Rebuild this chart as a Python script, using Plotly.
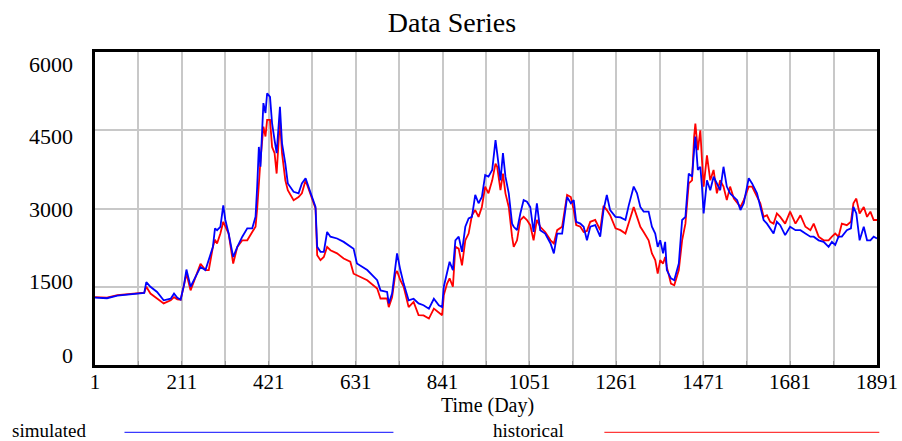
import plotly.graph_objects as go

days = [1, 30, 55, 79, 103, 120, 125, 135, 151, 167, 184, 192, 200, 208, 216, 222, 232, 244, 256, 268,
        276, 286, 291, 296, 304, 311, 316, 324, 335, 345, 357, 369, 381, 389, 393, 397, 401, 408, 413, 417,
        424, 429, 435, 440, 448, 453, 461, 467, 481, 493, 501, 510, 522, 534, 538, 546, 554, 562, 570, 586,
        602, 618, 626, 634, 659, 683, 691, 707, 711, 719, 727, 731, 739, 747, 759, 771, 783, 795, 808, 820,
        832, 840, 844, 852, 858, 866, 872, 880, 888, 896, 904, 912, 920, 928, 936, 944, 952, 961, 969, 973,
        981, 987, 993, 1001, 1009, 1013, 1021, 1029, 1037, 1045, 1053, 1061, 1069, 1077, 1089, 1102, 1110, 1118, 1130, 1142,
        1151, 1158, 1164, 1174, 1182, 1190, 1198, 1210, 1222, 1230, 1238, 1246, 1259, 1271, 1283, 1291, 1303, 1311, 1319, 1327,
        1339, 1347, 1355, 1361, 1367, 1374, 1379, 1383, 1393, 1401, 1412, 1420, 1428, 1436, 1444, 1449, 1452, 1458, 1464, 1468,
        1472, 1480, 1488, 1496, 1504, 1512, 1520, 1528, 1536, 1545, 1553, 1561, 1569, 1581, 1589, 1601, 1609, 1617, 1625, 1633,
        1641, 1649, 1657, 1669, 1681, 1694, 1706, 1718, 1730, 1738, 1750, 1762, 1774, 1782, 1790, 1798, 1806, 1818, 1828, 1834,
        1841, 1849, 1859, 1867, 1875, 1883, 1891]

simulated = [1290, 1280, 1330, 1350, 1375, 1380, 1590, 1500, 1400, 1240, 1270, 1370, 1290, 1255, 1530, 1830, 1500, 1690, 1880, 1820,
             2010, 2265, 2620, 2585, 2650, 3060, 2780, 2520, 2070, 2265, 2460, 2620, 2620, 2840, 3420, 4180, 3800, 5020, 4830, 5210,
             5140, 4630, 4310, 4060, 4950, 4250, 3860, 3480, 3320, 3290, 3480, 3580, 3300, 3030, 2265, 2170, 2170, 2550, 2460, 2425,
             2360, 2265, 2230, 1945, 1820, 1625, 1430, 1400, 1180, 1370, 1820, 2140, 1820, 1560, 1240, 1270, 1180, 1145, 1080, 1270,
             1145, 1110, 1500, 1750, 1980, 1820, 2390, 2460, 2170, 2650, 2810, 2840, 3260, 3100, 3220, 3640, 3610, 3740, 4310, 4060,
             3540, 4060, 3610, 3290, 2710, 2650, 2585, 2905, 3160, 3130, 3030, 2550, 3100, 2585, 2520, 2330, 2140, 2520, 2520, 3220,
             3100, 3160, 2745, 2710, 2650, 2390, 2650, 2680, 2460, 2970, 3260, 2970, 2840, 2830, 2780, 3060, 3420, 3290, 3030, 2940,
             2940, 2650, 2520, 2265, 2390, 2140, 2360, 1820, 1660, 1625, 1945, 2780, 2840, 3670, 3610, 4120, 4380, 3740, 3800, 3420,
             2905, 3540, 3350, 3610, 3480, 3350, 3800, 3420, 3290, 3220, 3160, 2970, 3100, 3580, 3480, 3290, 3030, 2780, 2710, 2620,
             2520, 2745, 2680, 2490, 2650, 2585, 2585, 2520, 2460, 2460, 2390, 2360, 2265, 2360, 2300, 2460, 2460, 2585, 2620, 3030,
             2905, 2390, 2650, 2390, 2390, 2460, 2425]

historical = [1300, 1290, 1340, 1360, 1385, 1385, 1500, 1370, 1275, 1180, 1240, 1300, 1260, 1250, 1530, 1750, 1430, 1690, 1940, 1820,
              1820, 2265, 2400, 2330, 2520, 2745, 2650, 2520, 1945, 2265, 2390, 2390, 2550, 2650, 3000, 3480, 3930, 4570, 4380, 4700,
              4700, 4180, 4060, 3670, 4700, 4060, 3540, 3350, 3160, 3220, 3290, 3540, 3280, 3000, 2105, 2010, 2070, 2265, 2200, 2140,
              2040, 1980, 1750, 1720, 1625, 1465, 1275, 1275, 1110, 1300, 1750, 1800, 1625, 1500, 1110, 1210, 955, 950, 890, 1080,
              1015, 955, 1340, 1560, 1660, 1500, 2265, 2230, 1910, 2390, 2520, 2870, 2970, 2840, 3030, 3420, 3290, 3540, 3860, 3800,
              3350, 3670, 3290, 3030, 2460, 2265, 2390, 2780, 2840, 2780, 2680, 2390, 2780, 2650, 2550, 2390, 2330, 2585, 2650, 3260,
              3220, 2970, 2680, 2650, 2550, 2570, 2745, 2780, 2585, 3050, 2970, 2870, 2620, 2585, 2520, 2745, 3030, 2840, 2650, 2550,
              2390, 2140, 2010, 1750, 2010, 1945, 2070, 1880, 1560, 1530, 1820, 2390, 2710, 3480, 3540, 4380, 4630, 4120, 4500, 3930,
              3420, 4020, 3540, 3740, 3290, 3540, 3420, 3160, 3420, 3190, 3100, 3030, 3160, 3420, 3420, 3220, 3100, 2840, 2870, 2745,
              2710, 2905, 2840, 2710, 2940, 2710, 2870, 2650, 2585, 2710, 2460, 2390, 2390, 2460, 2520, 2460, 2710, 2680, 2745, 3100,
              3190, 2905, 3030, 2840, 2940, 2780, 2780]

x_tick_vals = [1, 211, 421, 631, 841, 1051, 1261, 1471, 1681, 1891]
y_tick_vals = [0, 1500, 3000, 4500, 6000]
y_tick_text = ["0", "1500", "3000", "4500", "6000"]

SERIF = "Liberation Serif"
FS = 21
PL, PW, PB, PH = 94.5, 782.2, 364.7, 312.7  # plot-area geometry in pixels


def py(pixel_y):
    return (PB - pixel_y) / PH


def px(pixel_x):
    return (pixel_x - PL) / PW


fig = go.Figure()
fig.add_trace(go.Scatter(x=days, y=historical, mode="lines", name="historical",
                         line=dict(color="#FF0000", width=1.8), showlegend=False))
fig.add_trace(go.Scatter(x=days, y=simulated, mode="lines", name="simulated",
                         line=dict(color="#0000FF", width=1.8), showlegend=False))

fig.update_layout(
    width=902, height=441,
    margin=dict(l=95, r=25, t=52, b=76, autoexpand=False),
    paper_bgcolor="white", plot_bgcolor="white",
    font=dict(family=SERIF, color="black", size=FS),
    title=dict(text="Data Series", x=452 / 902, xref="container", xanchor="center",
               y=1 - 22 / 441, yref="container", yanchor="middle",
               font=dict(family=SERIF, size=28, color="black")),
)
fig.update_xaxes(
    range=[1, 1891], tickvals=x_tick_vals, ticktext=[str(v) for v in x_tick_vals],
    showgrid=True, gridcolor="#c8c8c8", gridwidth=1.5,
    minor=dict(tick0=1, dtick=105, showgrid=True, gridcolor="#c8c8c8", gridwidth=1.5,
               ticks="inside", ticklen=4, tickcolor="#999999"),
    ticks="inside", ticklen=4, tickcolor="#999999",
    showline=True, linecolor="black", linewidth=3, mirror=True,
    zeroline=False, tickfont=dict(family=SERIF, size=FS), ticklabelstandoff=-4,
    automargin=False,
)
fig.update_yaxes(
    range=[0, 6000], tickvals=y_tick_vals, ticktext=y_tick_text,
    showgrid=True, gridcolor="#c8c8c8", gridwidth=1.5,
    ticks="", showline=True, linecolor="black", linewidth=3, mirror=True,
    zeroline=False, showticklabels=False, automargin=False,
)

# y tick labels placed as the reference shows them (evenly spaced, slightly inset)
label_pos = [186, 1593, 2988, 4375, 5770]
for txt, yv in zip(y_tick_text, label_pos):
    fig.add_annotation(text=txt, xref="paper", yref="y", x=px(74), y=yv,
                       xanchor="right", yanchor="middle", showarrow=False,
                       font=dict(family=SERIF, size=22, color="black"))

# x axis title
fig.add_annotation(text="Time (Day)", xref="paper", yref="paper", x=px(487), y=py(405.5),
                   xanchor="center", yanchor="middle", showarrow=False,
                   font=dict(family=SERIF, size=20, color="black"))

# legend drawn below the axis title
fig.add_shape(type="line", xref="paper", yref="paper",
              x0=px(124), x1=px(393), y0=py(432), y1=py(432),
              line=dict(color="#3a3aff", width=1.2))
fig.add_shape(type="line", xref="paper", yref="paper",
              x0=px(604), x1=px(879), y0=py(432), y1=py(432),
              line=dict(color="#ff3a3a", width=1.2))
fig.add_annotation(text="simulated", xref="paper", yref="paper",
                   x=px(9), y=py(430), xanchor="left", yanchor="middle",
                   showarrow=False, font=dict(family=SERIF, size=19, color="black"))
fig.add_annotation(text="historical", xref="paper", yref="paper",
                   x=px(491), y=py(430), xanchor="left", yanchor="middle",
                   showarrow=False, font=dict(family=SERIF, size=19, color="black"))

fig.write_html("out.html", config={"displayModeBar": False},
               post_script="document.body.style.margin='0';document.body.style.overflow='hidden';")
